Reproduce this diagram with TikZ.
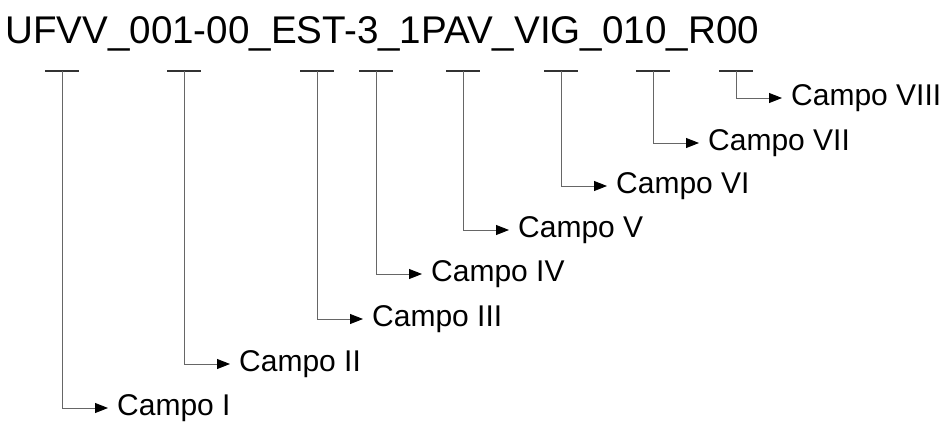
\documentclass[tikz,border=0pt]{standalone}
\usepackage{fontspec}
\setmainfont{Liberation Sans}
\usetikzlibrary{arrows.meta}

\begin{document}
\begin{tikzpicture}[
						x=1pt, y=-1pt,
						every node/.style={inner sep=0pt},
						codigo/.style={font=\fontsize{38.6}{40}\selectfont, anchor=base west},
						campo/.style={font=\fontsize{30}{31}\selectfont, anchor=west, inner xsep=9pt},
						barra/.style={line width=1.6pt, draw=black!80},
						haste/.style={line width=0.9pt, draw=black!60, -{Triangle[length=13pt,width=10pt,color=black]}},
						line cap=butt,
						line join=miter
						]
						
						\useasboundingbox (0,0) rectangle (950,421);
						
						\node[codigo] (titulo) at (5,43) {UFVV\_001-00\_EST-3\_1PAV\_VIG\_010\_R00};
						
						\coordinate (b1) at (62,71);
						\coordinate (b2) at (184,71);
						\coordinate (b3) at (317,71);
						\coordinate (b4) at (376,71);
						\coordinate (b5) at (463,71);
						\coordinate (b6) at (561,71);
						\coordinate (b7) at (653,71);
						\coordinate (b8) at (736,71);
						
						\node[campo] (c1) at (108,408) {Campo I};
						\node[campo] (c2) at (230,364) {Campo II};
						\node[campo] (c3) at (363,319) {Campo III};
						\node[campo] (c4) at (422,274) {Campo IV};
						\node[campo] (c5) at (509,230) {Campo V};
						\node[campo] (c6) at (607,186) {Campo VI};
						\node[campo] (c7) at (699,143) {Campo VII};
						\node[campo] (c8) at (782,98) {Campo VIII};
						
						\draw[barra] ([xshift=-17pt]b1) -- ([xshift=17pt]b1);
						\draw[barra] ([xshift=-17pt]b2) -- ([xshift=17pt]b2);
						\draw[barra] ([xshift=-17pt]b3) -- ([xshift=17pt]b3);
						\draw[barra] ([xshift=-17pt]b4) -- ([xshift=17pt]b4);
						\draw[barra] ([xshift=-17pt]b5) -- ([xshift=17pt]b5);
						\draw[barra] ([xshift=-17pt]b6) -- ([xshift=17pt]b6);
						\draw[barra] ([xshift=-17pt]b7) -- ([xshift=17pt]b7);
						\draw[barra] ([xshift=-17pt]b8) -- ([xshift=17pt]b8);
						
						\draw[haste] (b1) |- (c1.west);
						\draw[haste] (b2) |- (c2.west);
						\draw[haste] (b3) |- (c3.west);
						\draw[haste] (b4) |- (c4.west);
						\draw[haste] (b5) |- (c5.west);
						\draw[haste] (b6) |- (c6.west);
						\draw[haste] (b7) |- (c7.west);
						\draw[haste] (b8) |- (c8.west);
						
					\end{tikzpicture}
\end{document}
